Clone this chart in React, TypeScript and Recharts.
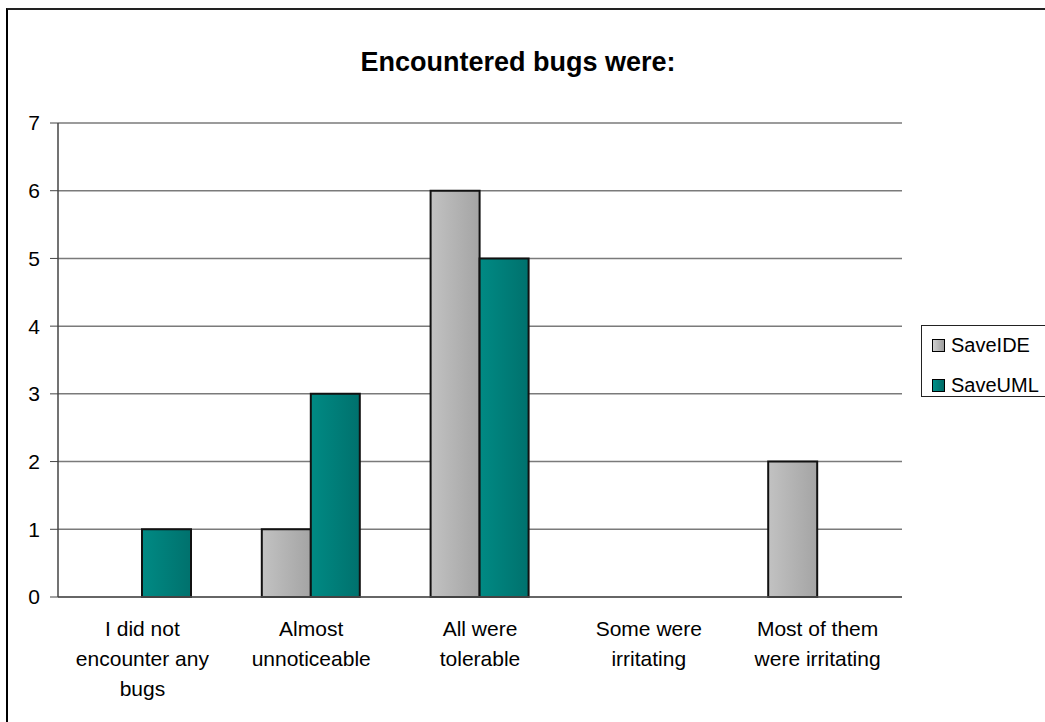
import React from 'react';
import { BarChart, Bar, XAxis, YAxis, CartesianGrid } from 'recharts';

const categories = [
  'I did not\nencounter any\nbugs',
  'Almost\nunnoticeable',
  'All were\ntolerable',
  'Some were\nirritating',
  'Most of them\nwere irritating',
];
const saveIDE = [0, 1, 6, 0, 2];
const saveUML = [1, 3, 5, 0, 0];
const yTicks = [0, 1, 2, 3, 4, 5, 6, 7];

const FONT = '"Liberation Sans", Arial, sans-serif';

const data = categories.map((name, i) => ({
  name,
  SaveIDE: saveIDE[i],
  SaveUML: saveUML[i],
}));

const series = [
  { key: 'SaveIDE', fill: 'url(#gradIDE)', swatch: 'linear-gradient(to right, #d0d0d0, #9c9c9c)' },
  { key: 'SaveUML', fill: 'url(#gradUML)', swatch: 'linear-gradient(to right, #009088, #006a66)' },
];

// multi-line category label, lines split on \n
function CategoryTick({ x, y, payload }: any) {
  const lines = String(payload.value).split('\n');
  return (
    <text x={x} y={y} textAnchor="middle" fill="#000" fontSize={21} fontFamily={FONT}>
      {lines.map((line, i) => (
        <tspan key={i} x={x} dy={i === 0 ? 39 : 30}>
          {line}
        </tspan>
      ))}
    </text>
  );
}

function LegendBox() {
  return (
    <div
      style={{
        position: 'absolute',
        left: 921,
        top: 325,
        border: '1.5px solid #222',
        height: 72,
        width: 140,
        boxSizing: 'border-box',
        padding: '5px 0 0 10px',
        fontFamily: FONT,
        fontSize: 20,
        color: '#000',
        background: '#fff',
      }}
    >
      {series.map((s, i) => (
        <div key={s.key} style={{ height: 28, lineHeight: '28px', marginTop: i === 0 ? 0 : 12 }}>
          <span
            style={{
              display: 'inline-block',
              width: 11,
              height: 11,
              border: '1.5px solid #000',
              background: s.swatch,
              marginRight: 6,
              verticalAlign: 'middle',
              position: 'relative',
              top: -1,
            }}
          />
          {s.key}
        </div>
      ))}
    </div>
  );
}

export default function App() {
  return (
    <div
      style={{
        position: 'absolute',
        left: 0,
        top: 0,
        width: 1045,
        height: 722,
        overflow: 'hidden',
        background: '#fff',
      }}
    >
      {/* outer chart frame, cut off at right and bottom */}
      <div
        style={{
          position: 'absolute',
          left: 6,
          top: 8,
          width: 1100,
          height: 800,
          border: '2px solid #000',
          borderTopColor: '#222',
        }}
      />
      <div
        style={{
          position: 'absolute',
          left: 0,
          width: 1036,
          top: 49,
          textAlign: 'center',
          fontFamily: FONT,
          fontWeight: 'bold',
          fontSize: 27,
          lineHeight: '27px',
          color: '#000',
        }}
      >
        Encountered bugs were:
      </div>
      <div style={{ position: 'absolute', left: 0, top: 0 }}>
        <BarChart
          width={1045}
          height={722}
          data={data}
          margin={{ top: 123, right: 143, bottom: 0, left: 0 }}
          barSize={49}
          barGap={0}
        >
          <defs>
            <linearGradient id="gradIDE" x1="0" y1="0" x2="1" y2="0">
              <stop offset="0%" stopColor="#c2c2c2" />
              <stop offset="100%" stopColor="#a4a4a4" />
            </linearGradient>
            <linearGradient id="gradUML" x1="0" y1="0" x2="1" y2="0">
              <stop offset="0%" stopColor="#008a84" />
              <stop offset="100%" stopColor="#00716d" />
            </linearGradient>
          </defs>
          <CartesianGrid horizontal vertical={false} stroke="#7a7a7a" strokeWidth={1.5} />
          <XAxis
            dataKey="name"
            height={125}
            interval={0}
            tickLine={false}
            tickSize={0}
            tickMargin={0}
            axisLine={{ stroke: '#555', strokeWidth: 1.5 }}
            tick={<CategoryTick />}
          />
          <YAxis
            width={58}
            domain={[0, 7]}
            ticks={yTicks}
            interval={0}
            tickSize={8}
            tickMargin={10}
            tickLine={{ stroke: '#444' }}
            axisLine={{ stroke: '#444', strokeWidth: 1.5 }}
            tick={{ fill: '#000', fontSize: 21, fontFamily: FONT }}
          />
          <YAxis
            yAxisId="frame"
            orientation="right"
            width={0}
            tick={false}
            tickLine={false}
            axisLine={{ stroke: '#a0a0a0', strokeWidth: 2 }}
          />
          {series.map((s) => (
            <Bar
              key={s.key}
              dataKey={s.key}
              name={s.key}
              fill={s.fill}
              stroke="#111"
              strokeWidth={2}
              isAnimationActive={false}
            />
          ))}
        </BarChart>
      </div>
      <LegendBox />
    </div>
  );
}
